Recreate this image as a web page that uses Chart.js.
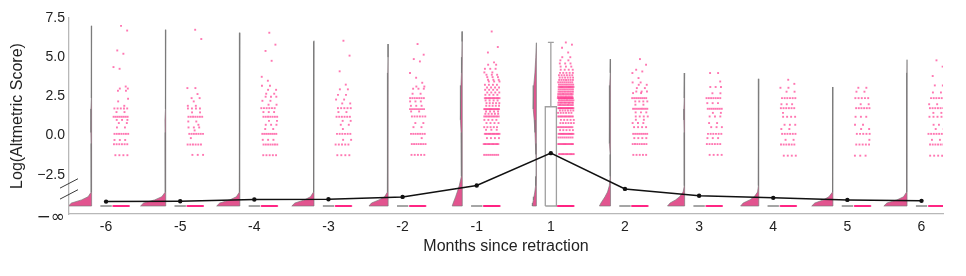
<!DOCTYPE html>
<html>
<head>
<meta charset="utf-8">
<script src="https://cdn.jsdelivr.net/npm/chart.js@4.4.0/dist/chart.umd.min.js"></script>
<style>
  html, body { margin: 0; padding: 0; background: #fff; }
</style>
</head>
<body>
<canvas id="rainChart" width="966" height="276"></canvas>
<script>
// Categories (months around the retraction)
const months = ['-6', '-5', '-4', '-3', '-2', '-1', '1', '2', '3', '4', '5', '6'];

// Level where log(0) = -inf is drawn
const NEG_INF = -4.49;

// Mean line (black)
const meanLog = [-4.21, -4.19, -4.08, -4.06, -3.91, -3.18, -1.12, -3.40, -3.84, -3.97, -4.10, -4.16];

// Box stats (only month 1 has a visible box)
const boxQ1 = [NEG_INF, NEG_INF, NEG_INF, NEG_INF, NEG_INF, NEG_INF, NEG_INF, NEG_INF, NEG_INF, NEG_INF, NEG_INF, NEG_INF];
const boxMedian = [NEG_INF, NEG_INF, NEG_INF, NEG_INF, NEG_INF, NEG_INF, -0.55, NEG_INF, NEG_INF, NEG_INF, NEG_INF, NEG_INF];
const boxQ3 = [NEG_INF, NEG_INF, NEG_INF, NEG_INF, NEG_INF, NEG_INF, 1.84, NEG_INF, NEG_INF, NEG_INF, NEG_INF, NEG_INF];
const whiskerHi = [NEG_INF, NEG_INF, NEG_INF, NEG_INF, NEG_INF, NEG_INF, 5.94, NEG_INF, NEG_INF, NEG_INF, NEG_INF, NEG_INF];

// Half violins: relative density at each level, cut at the max value
const violinLevels = [-4.49, -4.3, -4.1, -3.9, -3.6, -3.2, -2.6, -2.0, -1.2, -0.5, 0.2, 1.0, 1.7, 2.4, 3.2, 4.0, 5.0, 6.0, 7.0];
const violinTop = [7.0, 6.75, 6.56, 6.05, 5.84, 6.64, 5.92, 4.88, 3.99, 3.62, 3.1, 4.84];
const violinDensity = [
  [23, 20, 10, 3.5, 0.6, 0.3, 0.3, 0.4, 0.5, 0.6, 0.7, 0.8, 0.7, 0.5, 0.3, 0.2, 0.15, 0.1],
  [25, 22, 11, 4, 0.7, 0.3, 0.3, 0.4, 0.5, 0.6, 0.7, 0.8, 0.7, 0.5, 0.3, 0.15, 0.1, 0.05],
  [23, 20, 10, 3.5, 0.6, 0.3, 0.3, 0.4, 0.5, 0.6, 0.7, 0.8, 0.8, 0.6, 0.3, 0.2, 0.1, 0.05],
  [22, 19, 9.5, 3.5, 0.6, 0.3, 0.3, 0.4, 0.5, 0.6, 0.7, 0.8, 0.8, 0.6, 0.3, 0.2, 0.1, 0.05],
  [19, 16.5, 9, 3.5, 0.8, 0.3, 0.3, 0.4, 0.6, 0.8, 0.9, 1.0, 1.1, 0.9, 0.5, 0.3, 0.1],
  [10, 9, 7.8, 6.6, 5, 3, 1, 0.6, 0.8, 1.0, 1.2, 1.5, 2, 2, 1.3, 0.8, 0.4, 0.2],
  [4, 3.6, 3.0, 2.4, 1.6, 0.8, 0.4, 0.3, 0.5, 1.0, 1.4, 2.2, 3.0, 3.3, 2.6, 1.5, 0.6],
  [11, 9.5, 7.5, 5.5, 3, 1.2, 0.4, 0.3, 0.4, 0.6, 0.8, 1.2, 1.5, 1.4, 0.8, 0.3],
  [17, 14.5, 9, 5, 1.5, 0.5, 0.3, 0.3, 0.4, 0.5, 0.6, 0.8, 0.8, 0.6, 0.3],
  [18, 15.5, 9, 4.5, 1.2, 0.4, 0.3, 0.3, 0.4, 0.5, 0.6, 0.6, 0.5, 0.4, 0.2],
  [21, 18, 9.5, 4, 0.8, 0.3, 0.2, 0.2, 0.3, 0.4, 0.5, 0.5, 0.4, 0.3],
  [23, 20, 10, 3.5, 0.6, 0.3, 0.2, 0.3, 0.4, 0.5, 0.6, 0.6, 0.5, 0.3, 0.2, 0.1]
];

// Rain points: [log score, number of articles] per month
const pointsByMonth = [
  [[7.0,1],[6.7,1],[5.43,1],[5.22,1],[4.37,1],[4.26,1],[3.13,1],[3.0,2],[2.86,2],[2.35,1],[2.18,1],[1.9,1],[1.73,5],[1.5,2],[1.2,8],[1.0,3],[0.8,2],[0.52,2],[0.11,7],[-0.28,3],[-0.55,6],[-1.25,4],[NEG_INF,40]],
  [[6.75,1],[6.16,1],[3.03,2],[2.65,1],[2.39,2],[2.18,1],[1.9,2],[1.73,4],[1.48,2],[1.2,7],[0.9,2],[0.69,1],[0.52,3],[0.33,1],[0.11,7],[-0.16,1],[-0.57,6],[-1.23,3],[NEG_INF,40]],
  [[6.56,1],[5.8,1],[5.4,1],[4.77,1],[3.75,1],[3.5,1],[3.18,2],[2.92,2],[2.67,2],[2.48,3],[2.22,2],[1.97,2],[1.75,6],[1.5,3],[1.2,7],[0.94,2],[0.69,3],[0.42,2],[0.11,8],[-0.27,3],[-0.57,7],[-1.25,5],[NEG_INF,40]],
  [[6.05,1],[5.1,1],[4.1,1],[3.25,1],[2.95,2],[2.6,2],[2.3,2],[2.05,2],[1.75,5],[1.5,2],[1.2,6],[0.94,2],[0.69,2],[0.42,1],[0.11,6],[-0.27,2],[-0.57,5],[-1.25,4],[NEG_INF,40]],
  [[5.84,1],[5.16,1],[4.88,1],[4.73,1],[3.99,1],[3.69,1],[3.37,1],[3.13,2],[2.99,3],[2.67,2],[2.39,7],[2.18,3],[1.9,3],[1.69,8],[1.54,2],[1.22,6],[0.8,2],[0.54,2],[0.11,7],[-0.16,1],[-0.54,7],[-1.23,5],[NEG_INF,40]],
  [[6.64,1],[5.65,1],[5.3,1],[4.67,1],[4.52,2],[4.26,3],[4.03,2],[3.88,3],[3.73,3],[3.56,3],[3.45,3],[3.24,4],[3.07,4],[2.92,4],[2.75,4],[2.6,4],[2.39,12],[2.24,4],[2.07,5],[1.9,5],[1.69,14],[1.54,4],[1.39,5],[1.22,10],[1.0,4],[0.8,4],[0.54,5],[0.37,3],[0.11,12],[-0.16,4],[-0.54,12],[-1.23,8],[NEG_INF,50]],
  [[5.94,1],[5.8,1],[5.6,1],[5.3,1],[5.0,2],[4.8,2],[4.6,3],[4.4,3],[4.2,4],[4.0,5],[3.85,6],[3.7,6],[3.55,7],[3.4,8],[3.25,9],[3.1,14],[2.95,9],[2.8,10],[2.65,10],[2.5,10],[2.39,18],[2.25,10],[2.1,12],[1.95,10],[1.75,18],[1.6,6],[1.45,6],[1.22,12],[1.0,5],[0.8,6],[0.54,10],[0.35,5],[0.11,14],[-0.12,8],[-0.54,14],[-1.18,12],[NEG_INF,50]],
  [[4.88,1],[4.52,1],[4.2,1],[4.09,1],[3.99,1],[3.67,1],[3.39,2],[3.24,2],[3.03,2],[2.81,3],[2.71,2],[2.39,8],[2.18,4],[1.97,2],[1.71,9],[1.48,3],[1.22,4],[1.01,2],[0.8,3],[0.54,4],[0.11,8],[-0.16,4],[-0.54,7],[-1.23,5],[NEG_INF,40]],
  [[3.99,2],[3.45,1],[3.1,3],[2.7,2],[2.39,7],[2.07,3],[1.71,8],[1.45,2],[1.22,3],[0.8,2],[0.54,3],[0.11,6],[-0.16,3],[-0.54,6],[-1.23,4],[NEG_INF,40]],
  [[3.56,1],[3.3,1],[3.05,2],[2.8,2],[2.39,6],[2.0,3],[1.75,6],[1.45,1],[1.2,4],[0.69,3],[0.42,2],[0.11,6],[-0.27,2],[-0.57,6],[-1.28,4],[NEG_INF,40]],
  [[3.05,2],[2.8,2],[2.39,5],[2.0,2],[1.75,6],[1.2,3],[0.69,2],[0.42,2],[0.11,5],[-0.27,1],[-0.57,5],[-1.28,3],[NEG_INF,40]],
  [[4.8,1],[4.4,1],[3.8,1],[3.2,2],[2.75,2],[2.39,6],[2.0,2],[1.75,6],[1.45,2],[1.2,4],[0.69,3],[0.42,2],[0.11,6],[-0.27,2],[-0.57,6],[-1.28,4],[NEG_INF,40]]
];

// Y axis ticks; the lowest one is the -inf label
const yTickValues = [-5.2, -2.5, 0, 2.5, 5, 7.5];
const breakValues = [-3.05, -3.75];

// Layout of the pieces inside one category (x units)
const VIOLIN_OFFSET = -0.195;
const VIOLIN_SCALE = 0.34 / 25;
const BOX_HALF = 0.075;
const CAP_HALF = 0.04;
const JITTER_FROM = 0.094;
const JITTER_WIDTH = 0.216;

const PINK = 'rgba(255, 35, 130, 0.62)';
const VIOLIN_FILL = '#e2548f';
const GREY = '#a0a0a0';
const FONT = "'Liberation Sans', Arial, sans-serif";

const violinSets = months.map((m, i) => {
  const base = i + VIOLIN_OFFSET;
  const dens = violinDensity[i];
  const pts = [{ x: base, y: violinTop[i] }];
  for (let k = violinLevels.length - 1; k >= 0; k--) {
    if (violinLevels[k] >= violinTop[i] || dens[k] === undefined) continue;
    pts.push({ x: base - dens[k] * VIOLIN_SCALE, y: violinLevels[k] });
  }
  pts.push({ x: base, y: NEG_INF });
  pts.push({ x: base, y: violinTop[i] });
  return {
    type: 'line', data: pts, fill: 'shape',
    backgroundColor: VIOLIN_FILL, borderColor: 'rgba(120, 120, 120, 0.65)', borderWidth: 1,
    pointRadius: 0, tension: 0, order: 5
  };
});

const boxSets = [];
months.forEach((m, i) => {
  boxSets.push({
    type: 'line',
    data: [
      { x: i - BOX_HALF, y: boxQ1[i] }, { x: i + BOX_HALF, y: boxQ1[i] },
      { x: i + BOX_HALF, y: boxQ3[i] }, { x: i - BOX_HALF, y: boxQ3[i] },
      { x: i - BOX_HALF, y: boxQ1[i] }
    ],
    fill: 'shape', backgroundColor: '#ffffff', borderColor: GREY, borderWidth: 1.3,
    pointRadius: 0, order: 4
  });
  boxSets.push({
    type: 'line',
    data: [
      { x: i - BOX_HALF, y: boxMedian[i] }, { x: i + BOX_HALF, y: boxMedian[i] }, { x: i, y: null },
      { x: i, y: boxQ3[i] }, { x: i, y: whiskerHi[i] }, { x: i, y: null },
      { x: i - CAP_HALF, y: whiskerHi[i] }, { x: i + CAP_HALF, y: whiskerHi[i] }
    ],
    fill: false, borderColor: GREY, borderWidth: 1.3, pointRadius: 0, spanGaps: false, order: 4
  });
});

// spread the points of a row across the jitter band
const rainData = [];
pointsByMonth.forEach((rows, i) => {
  rows.forEach(([v, n], r) => {
    for (let k = 0; k < n; k++) {
      const f = ((k + 0.5) / n + r * 0.382) % 1;
      rainData.push({ x: i + JITTER_FROM + f * JITTER_WIDTH, y: v });
    }
  });
});

const breakMarks = {
  id: 'breakMarks',
  afterDraw(chart) {
    const { ctx, scales: { y } } = chart;
    const x0 = y.right;
    ctx.save();
    ctx.strokeStyle = '#3a3a3a';
    ctx.lineWidth = 1;
    breakValues.forEach(v => {
      const py = y.getPixelForValue(v);
      ctx.beginPath();
      ctx.moveTo(x0 - 9, py + 4.7);
      ctx.lineTo(x0 + 9, py - 4.7);
      ctx.stroke();
    });
    ctx.restore();
  }
};

const ctx = document.getElementById('rainChart').getContext('2d');
new Chart(ctx, {
  type: 'scatter',
  data: {
    datasets: [
      {
        type: 'line',
        data: months.map((m, i) => ({ x: i, y: meanLog[i] })),
        borderColor: '#111', borderWidth: 1.5, backgroundColor: '#111',
        pointRadius: 2.2, pointBackgroundColor: '#111', pointBorderWidth: 0,
        fill: false, tension: 0, order: 1
      },
      {
        type: 'scatter',
        data: rainData,
        pointStyle: 'rect', pointRadius: 1.35, pointBorderWidth: 0,
        pointBackgroundColor: PINK, backgroundColor: PINK, order: 3
      },
      ...boxSets,
      ...violinSets
    ]
  },
  options: {
    responsive: false,
    animation: false,
    devicePixelRatio: 1,
    layout: { padding: { top: 18, right: 23, left: 0, bottom: 0 } },
    plugins: { legend: { display: false }, tooltip: { enabled: false } },
    scales: {
      x: {
        type: 'linear', min: -0.5, max: 11.29,
        afterBuildTicks: s => { s.ticks = months.map((m, i) => ({ value: i })); },
        afterFit: s => { s.height = 62; },
        ticks: {
          callback: v => months[v], autoSkip: false, maxRotation: 0,
          color: '#222', padding: 5, font: { family: FONT, size: 14 }
        },
        grid: { display: false, drawTicks: false },
        border: { display: true, color: '#b8b8b8', width: 1.3 },
        title: {
          display: true, text: 'Months since retraction', color: '#222',
          font: { family: FONT, size: 16 }, padding: { top: 0, bottom: 20 }
        }
      },
      y: {
        type: 'linear', min: -5.0, max: 7.5,
        afterBuildTicks: s => { s.ticks = yTickValues.map(v => ({ value: v })); },
        afterFit: s => { s.width = 69; },
        ticks: {
          callback: v => v < -5 ? '\u2212\u221e' : (v < 0 ? '\u2212' : '') + Math.abs(v).toFixed(1),
          autoSkip: false, color: '#222', padding: 4,
          font: c => (c.tick && c.tick.value < -5)
            ? { family: "'DejaVu Sans', sans-serif", size: 17 }
            : { family: FONT, size: 14 }
        },
        grid: { display: false, drawTicks: false },
        border: { display: true, color: '#b8b8b8', width: 1.3 },
        title: {
          display: true, text: 'Log(Altmetric Score)', color: '#222',
          font: { family: FONT, size: 16 }, padding: { top: 8, bottom: 0 }
        }
      }
    }
  },
  plugins: [breakMarks]
});
</script>
</body>
</html>
